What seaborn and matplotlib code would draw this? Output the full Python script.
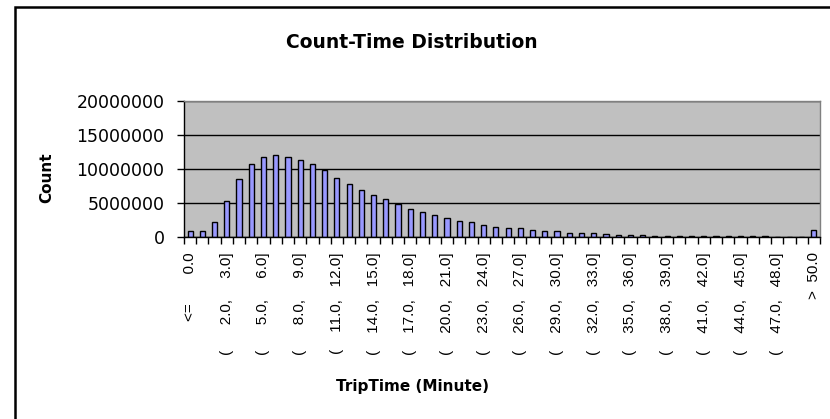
import numpy as np
import pandas as pd
import matplotlib
matplotlib.use("Agg")
import matplotlib.pyplot as plt
from matplotlib.patches import Rectangle
import seaborn as sns

# bins: <= 0.0, (0,1], (1,2], ... (49,50], > 50.0
edges = list(range(0, 51))
counts = [
    890000, 890000, 2230000, 5300000, 8470000, 10700000, 11800000, 12000000,
    11800000, 11300000, 10700000, 9800000, 8660000, 7820000, 6880000, 6190000,
    5540000, 4850000, 4120000, 3680000, 3280000, 2790000, 2400000, 2160000,
    1760000, 1520000, 1270000, 1270000, 1080000, 830000, 830000, 640000,
    640000, 640000, 420000, 350000, 350000, 350000, 150000, 150000,
    150000, 150000, 150000, 150000, 150000, 150000, 150000, 150000,
    0, 0, 0, 1000000,
]


def fmt(v):
    # numbers right-aligned like the spreadsheet labels
    s = f"{v:.1f}"
    if v < 10:
        s = "  " + s
    return s


categories = ["<=     " + fmt(0.0)]
for a, b in zip(edges[:-1], edges[1:]):
    categories.append(f"(    {fmt(a)},   {fmt(b)}]")
categories.append(">  50.0")

df = pd.DataFrame({"TripTime": categories, "Count": counts})

sns.set_style("white")
plt.rcParams["font.family"] = ["DejaVu Sans"]
plt.rcParams["text.color"] = "black"
plt.rcParams["xtick.color"] = "black"
plt.rcParams["ytick.color"] = "black"

fig = plt.figure(figsize=(8.3, 4.19), dpi=100)
ax = fig.add_axes([184 / 830, 1 - 237 / 419, (820 - 184) / 830, (237 - 100.7) / 419])

sns.barplot(data=df, x="TripTime", y="Count", ax=ax, color="#9999FF",
            edgecolor="black", linewidth=1.0, width=0.42, saturation=1)

ax.set_facecolor("#C0C0C0")
ax.set_ylim(0, 20000000)
ax.set_yticks(range(0, 20000001, 5000000))
ax.set_yticklabels([str(v) for v in range(0, 20000001, 5000000)], fontsize=12.5)
ax.yaxis.grid(True, color="black", linewidth=1.0)
ax.set_axisbelow(True)
ax.tick_params(axis="y", length=5, width=1, color="black", left=True, pad=9)

n = len(categories)
ax.set_xlim(-0.5, n - 0.5)
ax.set_xticks(range(n))
ax.set_xticklabels([c if i % 3 == 0 else "" for i, c in enumerate(categories)],
                   rotation=90, fontsize=11, va="top", ha="center",
                   family="Liberation Sans")
ax.set_xticks(np.arange(-0.5, n, 1.0), minor=True)
ax.tick_params(axis="x", which="major", length=0, pad=11)
ax.tick_params(axis="x", which="minor", length=5, width=1, color="black",
               bottom=True, direction="out")

for side in ["left", "bottom"]:
    ax.spines[side].set_color("black")
    ax.spines[side].set_linewidth(1.0)
for side in ["top", "right"]:
    ax.spines[side].set_color("#808080")
    ax.spines[side].set_linewidth(1.0)

ax.set_xlabel("")
ax.set_ylabel("")
fig.text(47 / 830, 1 - 178 / 419, "Count", rotation=90, fontsize=11,
         fontweight="bold", ha="center", va="center")
fig.text(412 / 830, 1 - 386 / 419, "TripTime (Minute)", fontsize=11,
         fontweight="bold", ha="center", va="center")
fig.text(412 / 830, 1 - 42 / 419, "Count-Time Distribution", fontsize=13.5,
         fontweight="bold", ha="center", va="center")

# chart frame
fig.patches.append(Rectangle((15 / 830, -0.05), 1.2, 1 - 7 / 419 + 0.05,
                             transform=fig.transFigure, fill=False,
                             edgecolor="black", linewidth=1.8))

fig.savefig("out.png", dpi=100)
